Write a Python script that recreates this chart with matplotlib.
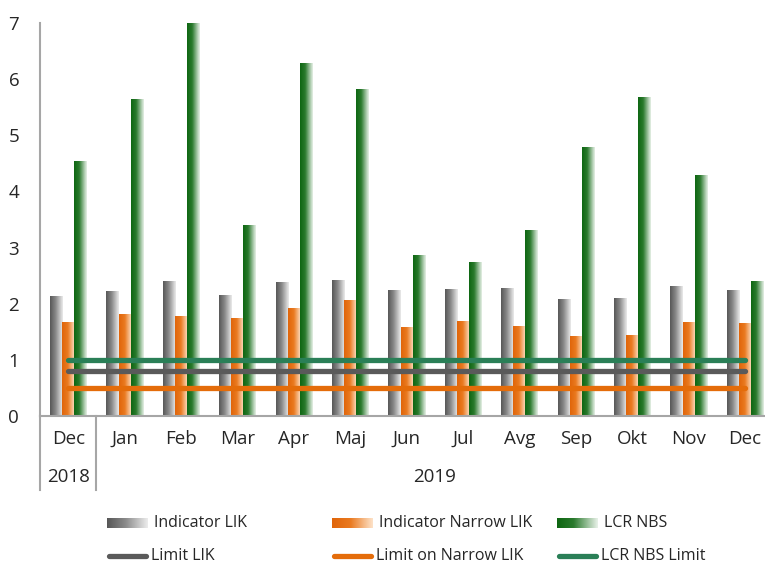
import numpy as np
import matplotlib
matplotlib.use("Agg")
import matplotlib.pyplot as plt
from matplotlib.colors import LinearSegmentedColormap
from matplotlib.lines import Line2D
import matplotlib.transforms as mtransforms

# ---- data ----
months = ["Dec", "Jan", "Feb", "Mar", "Apr", "Maj", "Jun", "Jul", "Avg", "Sep", "Okt", "Nov", "Dec"]
years = ["2018", "2019"]
year_spans = [(0, 0), (1, 12)]
indicator_lik = [2.12, 2.21, 2.40, 2.14, 2.37, 2.42, 2.24, 2.26, 2.27, 2.07, 2.10, 2.30, 2.23]
indicator_narrow = [1.66, 1.80, 1.78, 1.73, 1.92, 2.05, 1.57, 1.69, 1.60, 1.41, 1.43, 1.66, 1.64]
lcr_nbs = [4.54, 5.63, 7.00, 3.40, 6.27, 5.81, 2.86, 2.73, 3.31, 4.79, 5.68, 4.29, 2.39]
limit_lik = 0.8
limit_narrow = 0.5
limit_lcr = 1.0
series_labels = ["Indicator LIK", "Indicator Narrow LIK", "LCR NBS"]
line_labels = ["Limit LIK", "Limit on Narrow LIK", "LCR NBS Limit"]

FONT = ["Open Sans", "DejaVu Sans"]
plt.rcParams["font.family"] = FONT

W, H = 765, 565
fig = plt.figure(figsize=(W / 100, H / 100), dpi=100)

# axes geometry in pixels
ax_left, ax_top, ax_bottom = 40, 23, 416
cat_w = 56.4
ax_w = 13 * cat_w
ax = fig.add_axes([ax_left / W, 1 - ax_bottom / H, ax_w / W, (ax_bottom - ax_top) / H])

cmaps = [
    LinearSegmentedColormap.from_list("g", [(0, "#575757"), (0.45, "#8a8a8a"), (1, "#ececec")]),
    LinearSegmentedColormap.from_list("o", [(0, "#e0650a"), (0.45, "#ea7a20"), (1, "#fde2c8")]),
    LinearSegmentedColormap.from_list("gr", [(0, "#0e6612"), (0.4, "#2a7a2d"), (1, "#e8f1e8")]),
]
grad = np.linspace(0, 1, 64).reshape(1, -1)

x = np.arange(len(months))
bw = 0.215
series = [indicator_lik, indicator_narrow, lcr_nbs]
for i, (vals, cm) in enumerate(zip(series, cmaps)):
    bars = ax.bar(x + (i - 1) * bw, vals, width=bw, color="none", edgecolor="none", zorder=2)
    for b in bars:
        x0, y0 = b.get_x(), b.get_y()
        ax.imshow(grad, cmap=cm, extent=[x0, x0 + b.get_width(), y0, y0 + b.get_height()],
                  aspect="auto", interpolation="bicubic", zorder=2)

line_colors = ["#5a5a5a", "#e46c0a", "#2a7f57"]
for val, col in zip([limit_lik, limit_narrow, limit_lcr], line_colors):
    ax.plot([x[0], x[-1]], [val, val], color=col, lw=3.8, solid_capstyle="round", zorder=3)

ax.set_xlim(-0.5, len(months) - 0.5)
ax.set_ylim(0, 7)
ax.set_yticks(range(0, 8))
ax.set_xticks(x)
ax.set_xticklabels(months)
ax.tick_params(axis="both", length=0, labelsize=13.5, labelcolor="#262626")
ax.tick_params(axis="x", pad=10)
ax.tick_params(axis="y", pad=15)
for s in ["top", "right"]:
    ax.spines[s].set_visible(False)
for s in ["left", "bottom"]:
    ax.spines[s].set_color("#a6a6a6")
    ax.spines[s].set_linewidth(1.5)

# multi-level year labels
trans = mtransforms.blended_transform_factory(ax.transData, ax.transAxes)
ax_h = ax_bottom - ax_top
y_year = -(477 - ax_bottom) / ax_h
y_sep = -(490 - ax_bottom) / ax_h
for lab, (a, b) in zip(years, year_spans):
    ax.text((a + b) / 2, y_year, lab, transform=trans, ha="center", va="center",
            fontsize=13.5, color="#262626")
for xs in [-0.5, 0.5]:
    ax.add_line(Line2D([xs, xs], [0, y_sep], transform=trans, color="#a6a6a6", lw=1.5, clip_on=False))

# legend (manual)
patch_x = [107, 332, 557]
patch_w = 41
row_y = [523, 556]
for px, lab, cm in zip(patch_x, series_labels, cmaps):
    lax = fig.add_axes([px / W, 1 - (row_y[0] + 5) / H, patch_w / W, 10 / H])
    lax.imshow(grad, cmap=cm, aspect="auto", interpolation="bicubic")
    lax.axis("off")
    fig.text((px + patch_w + 6) / W, 1 - row_y[0] / H, lab, ha="left", va="center",
             fontsize=11.5, color="#262626")
for px, lab, col in zip(patch_x, line_labels, line_colors):
    fig.add_artist(Line2D([(px + 2) / W, (px + patch_w - 2) / W], [1 - row_y[1] / H] * 2,
                          transform=fig.transFigure, color=col, lw=3.8, solid_capstyle="round"))
    fig.text((px + patch_w + 3) / W, 1 - row_y[1] / H, lab, ha="left", va="center",
             fontsize=11.5, color="#262626")

fig.savefig("out.png", dpi=100)
